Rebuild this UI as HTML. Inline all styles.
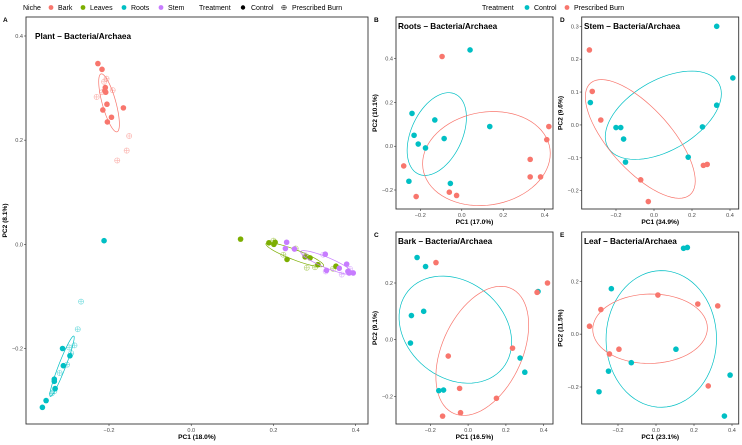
<!DOCTYPE html>
<html><head><meta charset="utf-8"><style>
body{margin:0;background:#fff;overflow:hidden;}
svg{display:block;font-family:"Liberation Sans",sans-serif;}
.tick{font-size:5.6px;fill:#4d4d4d;}
.ttl{font-size:8.2px;font-weight:bold;fill:#000;}
.axt{font-size:6.6px;font-weight:bold;fill:#000;}
.lab{font-size:6.5px;font-weight:bold;fill:#000;}
.leg{font-size:7px;fill:#000;}
</style></head><body>
<svg id="fig" width="742" height="445" viewBox="0 0 742 445">
<defs id="defs"></defs>
<g>
<text class="leg" x="23" y="10">Niche</text>
<circle cx="51" cy="7.5" r="2.4" fill="#F8766D"/><text class="leg" x="58" y="10">Bark</text>
<circle cx="83" cy="7.5" r="2.4" fill="#7CAE00"/><text class="leg" x="90" y="10">Leaves</text>
<circle cx="124" cy="7.5" r="2.4" fill="#00BFC4"/><text class="leg" x="131" y="10">Roots</text>
<circle cx="161" cy="7.5" r="2.4" fill="#C77CFF"/><text class="leg" x="168" y="10">Stem</text>
<text class="leg" x="199" y="10">Treatment</text>
<circle cx="243" cy="7.5" r="2.2" fill="#000"/><text class="leg" x="251" y="10">Control</text>
<circle cx="284" cy="7.5" r="2.3" fill="none" stroke="#000" stroke-width="0.5"/><path d="M281.7 7.5h4.6M284 5.2v4.6" stroke="#000" stroke-width="0.5"/><text class="leg" x="292" y="10">Prescribed Burn</text>
</g>
<g>
<text class="leg" x="482" y="10">Treatment</text>
<circle cx="527" cy="7.5" r="2.4" fill="#00BFC4"/><text class="leg" x="534" y="10">Control</text>
<circle cx="567" cy="7.5" r="2.4" fill="#F8766D"/><text class="leg" x="574" y="10">Prescribed Burn</text>
</g>
<g id="panels"></g>
</svg>
<script>
// ---- Panel A data (niche, treatment) ----
const barkCtrlX=[-0.227,-0.217,-0.209,-0.21,-0.208,-0.205,-0.215,-0.165,-0.194,-0.204];
const barkCtrlY=[0.347,0.336,0.301,0.295,0.292,0.269,0.258,0.262,0.244,0.235];
const barkBurnX=[-0.206,-0.212,-0.217,-0.23,-0.191,-0.151,-0.157,-0.18];
const barkBurnY=[0.318,0.312,0.292,0.283,0.296,0.208,0.18,0.161];
const rootCtrlX=[-0.212,-0.313,-0.295,-0.311,-0.333,-0.333,-0.331,-0.353,-0.362];
const rootCtrlY=[0.007,-0.2,-0.214,-0.233,-0.259,-0.263,-0.277,-0.3,-0.313];
const rootBurnX=[-0.268,-0.276,-0.284,-0.297,-0.292,-0.302,-0.32,-0.339,-0.333];
const rootBurnY=[-0.11,-0.163,-0.194,-0.198,-0.209,-0.231,-0.247,-0.286,-0.282];
const leafCtrlX=[0.12,0.189,0.204,0.201,0.277,0.289,0.233,0.308,0.352];
const leafCtrlY=[0.01,0.003,0.004,0.0,-0.024,-0.026,-0.029,-0.039,-0.042];
const leafBurnX=[0.2,0.254,0.224,0.281,0.301,0.345];
const leafBurnY=[0.007,-0.008,-0.02,-0.045,-0.044,-0.047];
const stemCtrlX=[0.232,0.229,0.251,0.326,0.378,0.36,0.329,0.381,0.384,0.394];
const stemCtrlY=[0.004,-0.008,-0.009,-0.019,-0.038,-0.046,-0.05,-0.052,-0.055,-0.055];
const stemBurnX=[0.276,0.321,0.327,0.386,0.366];
const stemBurnY=[-0.02,-0.02,-0.052,-0.047,-0.058];
// ---- Panel B Roots ----
const bCtrlX=[0.04,-0.24,-0.13,0.135,-0.23,-0.085,-0.21,-0.175,-0.255,-0.055];
const bCtrlY=[0.44,0.15,0.12,0.09,0.05,0.035,0.01,-0.008,-0.16,-0.17];
const bBurnX=[-0.095,0.42,0.41,-0.28,0.33,0.33,0.38,-0.06,-0.025,-0.22];
const bBurnY=[0.41,0.09,0.03,-0.09,-0.06,-0.14,-0.14,-0.21,-0.225,-0.23];
// ---- Panel D Stem ----
const dCtrlX=[0.33,0.415,-0.335,0.33,-0.2,-0.175,-0.16,0.255,0.18,-0.15];
const dCtrlY=[0.30,0.143,0.068,0.06,-0.008,-0.008,-0.043,-0.006,-0.098,-0.113];
const dBurnX=[-0.34,-0.325,-0.28,0.26,0.28,-0.07,-0.03];
const dBurnY=[0.228,0.102,0.015,-0.123,-0.12,-0.167,-0.233];
// ---- Panel C Bark ----
const cCtrlX=[-0.27,-0.225,-0.3,-0.235,-0.305,0.37,0.275,0.3,-0.155,-0.13];
const cCtrlY=[0.29,0.258,0.085,0.1,-0.012,0.17,-0.065,-0.115,-0.18,-0.178];
const cBurnX=[-0.17,0.42,0.365,0.235,-0.105,-0.045,0.15,-0.04,-0.135];
const cBurnY=[0.272,0.2,0.167,-0.03,-0.058,-0.172,-0.207,-0.258,-0.27];
// ---- Panel E Leaf ----
const eCtrlX=[0.145,0.165,-0.235,0.105,-0.13,-0.25,-0.3,0.39,0.36];
const eCtrlY=[0.325,0.328,0.172,-0.057,-0.108,-0.14,-0.218,-0.155,-0.31];
const eBurnX=[-0.35,-0.29,0.01,0.22,0.325,-0.195,-0.245,0.275];
const eBurnY=[0.03,0.093,0.148,0.114,0.107,-0.057,-0.075,-0.196];
// tick labels
const ticksA_X=[-0.2,0.0,0.2,0.4], ticksA_Y=[-0.2,0.0,0.2,0.4];
const ticksB_X=[-0.2,0.0,0.2,0.4], ticksB_Y=[-0.2,0.0,0.2,0.4];
const ticksD_X=[-0.2,0.0,0.2,0.4], ticksD_Y=[-0.2,-0.1,0.0,0.1,0.2,0.3];
const ticksC_X=[-0.2,0.0,0.2,0.4], ticksC_Y=[-0.2,0.0,0.2];
const ticksE_X=[-0.2,0.0,0.2,0.4], ticksE_Y=[-0.2,0.0,0.2];

const NS='http://www.w3.org/2000/svg';
const root=document.getElementById('panels');
const defs=document.getElementById('defs');
const RED='#F8766D',GRN='#7CAE00',TEAL='#00BFC4',PUR='#C77CFF';
function mk(tag,attrs,parent){const e=document.createElementNS(NS,tag);for(const k in attrs)e.setAttribute(k,attrs[k]);(parent||root).appendChild(e);return e;}
function fmt(v){return v.toFixed(1).replace('-','\u2212');}
function lin(d0,p0,d1,p1){return v=>p0+(v-d0)*(p1-p0)/(d1-d0);}
let clipN=0;
function ellipse(g,xs,ys,sx,sy,scale,color,robust){
  let idx=xs.map((_,i)=>i);
  const stats=ids=>{const n=ids.length;let mx=0,my=0;ids.forEach(i=>{mx+=xs[i];my+=ys[i];});mx/=n;my/=n;
    let a=0,b=0,c=0;ids.forEach(i=>{const dx=xs[i]-mx,dy=ys[i]-my;a+=dx*dx;b+=dx*dy;c+=dy*dy;});
    return {mx,my,a:a/(n-1),b:b/(n-1),c:c/(n-1)};};
  let s=stats(idx);
  if(robust){const det=s.a*s.c-s.b*s.b;
    idx=idx.filter(i=>{const dx=xs[i]-s.mx,dy=ys[i]-s.my;return (s.c*dx*dx-2*s.b*dx*dy+s.a*dy*dy)/det<9;});
    s=stats(idx);}
  const tr=(s.a+s.c)/2,dd=Math.sqrt(((s.a-s.c)/2)**2+s.b*s.b);
  const l1=tr+dd,l2=Math.max(tr-dd,1e-9);
  const th=0.5*Math.atan2(2*s.b,s.a-s.c);
  let d='';
  for(let k=0;k<=72;k++){const t=k/72*2*Math.PI;
    const u=scale*Math.sqrt(l1)*Math.cos(t),w=scale*Math.sqrt(l2)*Math.sin(t);
    const x=s.mx+u*Math.cos(th)-w*Math.sin(th),y=s.my+u*Math.sin(th)+w*Math.cos(th);
    d+=(k?'L':'M')+sx(x).toFixed(2)+' '+sy(y).toFixed(2);}
  const p=mk('path',{d:d,fill:'none',stroke:color,'stroke-width':0.7},g);
  
  
}
function points(g,xs,ys,sx,sy,color,open){
  xs.forEach((v,i)=>{
    const cx=sx(v),cy=sy(ys[i]);
    if(open){
      const gg=mk('g',{opacity:0.55},g);
      
      
      mk('circle',{cx:cx,cy:cy,r:2.6,fill:'none',stroke:color,'stroke-width':0.6},gg);
      mk('path',{d:`M${cx-2.6} ${cy}h5.2M${cx} ${cy-2.6}v5.2`,stroke:color,'stroke-width':0.6},gg);
    }else{
      const c=mk('circle',{cx:cx,cy:cy,r:2.8,fill:color},g);
      
      
    }
  });
}
function panel(name,box,sx,sy,tx,ty,title,letter,lx,xlab,ylab){
  const g=mk('g',{});
  
  
  const [x0,y0,x1,y1]=box;
  const id='clip'+(clipN++);
  const cp=mk('clipPath',{id:id},defs);
  mk('rect',{x:x0,y:y0,width:x1-x0,height:y1-y0},cp);
  const inner=mk('g',{'clip-path':`url(#${id})`},g);
  const fr=mk('rect',{x:x0,y:y0,width:x1-x0,height:y1-y0,fill:'none',stroke:'#333','stroke-width':0.9},g);
  
  
  tx.forEach(v=>{const X=sx(v);mk('line',{x1:X,x2:X,y1:y1,y2:y1+2,stroke:'#333','stroke-width':0.6},g);
    const t=mk('text',{class:'tick',x:X,y:y1+8,'text-anchor':'middle'},g);t.textContent=fmt(v);
    });
  ty.forEach(v=>{const Y=sy(v);mk('line',{x1:x0-2,x2:x0,y1:Y,y2:Y,stroke:'#333','stroke-width':0.6},g);
    const t=mk('text',{class:'tick',x:x0-3,y:Y+2,'text-anchor':'end'},g);t.textContent=fmt(v);
    });
  const tt=mk('text',{class:'ttl',x:title[1],y:title[2]},g);tt.textContent=title[0];
  
  const lt=mk('text',{class:'lab',x:lx,y:y0+5},g);lt.textContent=letter;
  
  const xt=mk('text',{class:'axt',x:(x0+x1)/2,y:y1+15,'text-anchor':'middle'},g);xt.textContent=xlab;
  
  const yx=x0-19,yc=(y0+y1)/2;
  const yt=mk('text',{class:'axt',x:yx,y:yc,'text-anchor':'middle',transform:`rotate(-90 ${yx} ${yc})`},g);yt.textContent=ylab;
  
  return inner;
}
// Panel A
{const sx=lin(-0.2,109,0.4,355.7),sy=lin(0.4,36,-0.2,348.5);
 const g=panel('panel-a-plant',[26,17,368,424],sx,sy,ticksA_X,ticksA_Y,['Plant \u2013 Bacteria/Archaea',35,39],'A',3,'PC1 (18.0%)','PC2 (8.1%)');
 [[barkCtrlX,barkCtrlY,barkBurnX,barkBurnY,RED],[rootCtrlX,rootCtrlY,rootBurnX,rootBurnY,TEAL],
  [leafCtrlX,leafCtrlY,leafBurnX,leafBurnY,GRN],[stemCtrlX,stemCtrlY,stemBurnX,stemBurnY,PUR]].forEach(n=>{
   ellipse(g,n[0].concat(n[2]),n[1].concat(n[3]),sx,sy,1.1,n[4],true);
   points(g,n[2],n[3],sx,sy,n[4],true);
   points(g,n[0],n[1],sx,sy,n[4],false);});}
function small(name,box,sx,sy,tx,ty,title,letter,lx,xl,yl,cx,cy,bx,by){
  const g=panel(name,box,sx,sy,tx,ty,title,letter,lx,xl,yl);
  ellipse(g,cx,cy,sx,sy,1.1,TEAL,true);
  ellipse(g,bx,by,sx,sy,1.1,RED,true);
  points(g,cx,cy,sx,sy,TEAL,false);
  points(g,bx,by,sx,sy,RED,false);
}
small('panel-b-roots',[396,17,553,209],lin(-0.2,420.3,0.4,544.7),lin(0.4,58.7,-0.2,190),ticksB_X,ticksB_Y,
  ['Roots \u2013 Bacteria/Archaea',398,29],'B',374,'PC1 (17.0%)','PC2 (10.1%)',bCtrlX,bCtrlY,bBurnX,bBurnY);
small('panel-d-stem',[581.7,17,738.7,209],lin(-0.2,616,0.4,730),lin(0.3,26.3,-0.2,190.7),ticksD_X,ticksD_Y,
  ['Stem \u2013 Bacteria/Archaea',584,29],'D',560,'PC1 (34.9%)','PC2 (9.6%)',dCtrlX,dCtrlY,dBurnX,dBurnY);
small('panel-c-bark',[396,232,553,424],lin(-0.2,430.3,0.4,543.7),lin(0.2,283,-0.2,396.3),ticksC_X,ticksC_Y,
  ['Bark \u2013 Bacteria/Archaea',398,244],'C',374,'PC1 (16.5%)','PC2 (9.1%)',cCtrlX,cCtrlY,cBurnX,cBurnY);
small('panel-e-leaf',[581.7,232,738.7,424],lin(-0.2,618,0.4,732),lin(0.2,281.3,-0.2,387),ticksE_X,ticksE_Y,
  ['Leaf \u2013 Bacteria/Archaea',584,244],'E',560,'PC1 (23.1%)','PC2 (11.5%)',eCtrlX,eCtrlY,eBurnX,eBurnY);
</script>
</body></html>
